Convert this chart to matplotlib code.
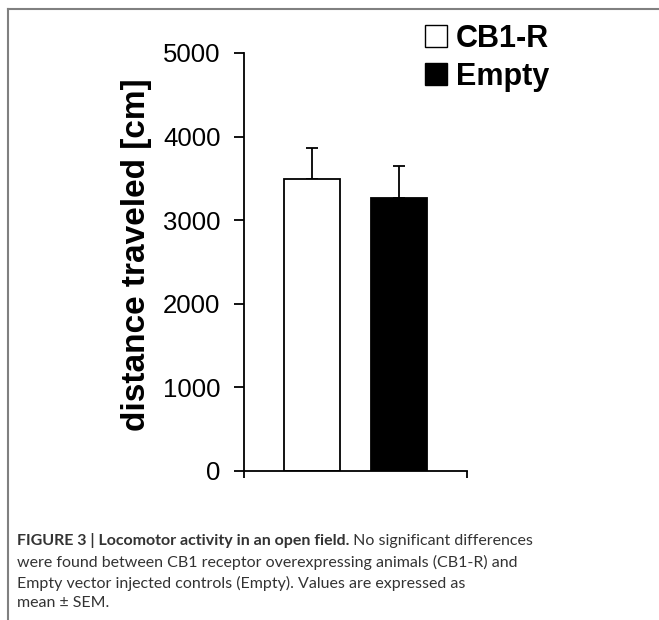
import matplotlib
matplotlib.use("Agg")
import matplotlib.pyplot as plt
from matplotlib.patches import Patch
from matplotlib.lines import Line2D

groups = ["CB1-R", "Empty"]
means = [3490, 3265]
sems = [375, 385]
colors = ["white", "black"]
yticks = [0, 1000, 2000, 3000, 4000, 5000]
ylabel = "distance traveled [cm]"
caption_bold = "FIGURE 3 | Locomotor activity in an open field."
caption_rest = [" No significant differences",
                "were found between CB1 receptor overexpressing animals (CB1-R) and",
                "Empty vector injected controls (Empty). Values are expressed as",
                "mean \u00b1 SEM."]

W, H, DPI = 659, 620, 100
fig = plt.figure(figsize=(W / DPI, H / DPI), dpi=DPI)
plt.rcParams['font.family'] = ['Liberation Sans', 'DejaVu Sans']

ax = fig.add_axes([244 / W, 1 - 471 / H, 223 / W, 418 / H])
xpos = list(range(len(groups)))
ax.bar(xpos, means, width=0.644, color=colors, edgecolor="black", linewidth=1.3, zorder=2)
ax.errorbar(xpos, means, yerr=[[0] * len(sems), sems], fmt="none", ecolor="black",
            elinewidth=1.3, capsize=4.3, capthick=1.3, zorder=1)
ax.set_xlim(-0.782, 1.782)
ax.set_ylim(0, 5000)
ax.set_yticks(yticks)
ax.set_yticklabels([str(v) for v in yticks], fontsize=18.5)
ax.set_xticks([-0.782, 1.782])
ax.set_xticklabels(["", ""])
ax.tick_params(axis="y", direction="out", length=7, width=1.3, pad=10, colors="black")
ax.tick_params(axis="x", direction="out", length=5, width=1.3)
for s in ["top", "right"]:
    ax.spines[s].set_visible(False)
for s in ["left", "bottom"]:
    ax.spines[s].set_linewidth(1.3)
ax.set_ylabel(ylabel, fontsize=24, fontweight="bold")
ax.yaxis.set_label_coords((152 - 244) / 223, (471 - 255) / 418)

handles = [Patch(facecolor=c, edgecolor="black", linewidth=1.0) for c in colors]
leg = fig.legend(handles, groups, loc="upper left", bbox_to_anchor=(425 / W, 1 - 24 / H),
                 frameon=False, borderpad=0, borderaxespad=0, handlelength=0.72,
                 handleheight=0.72, handletextpad=0.28, labelspacing=0.25,
                 prop={"weight": "bold", "size": 22})

# frame lines
fig.add_artist(Line2D([7.5 / W, 1], [1 - 8.5 / H, 1 - 8.5 / H], color="#808080", lw=1.5,
                      transform=fig.transFigure))
fig.add_artist(Line2D([7.5 / W, 7.5 / W], [0, 1 - 8.5 / H], color="#808080", lw=1.5,
                      transform=fig.transFigure))

# caption
cfam = ['Lato', 'DejaVu Sans']
ccol = "#333333"
csize = 11.5
x0 = 17 / W
ys = [541, 562, 583, 603]
t1 = fig.text(x0, 1 - ys[0] / H, caption_bold, fontsize=csize, fontweight="bold",
              family=cfam, color=ccol, va="center", ha="left")
fig.canvas.draw()
bb = t1.get_window_extent(renderer=fig.canvas.get_renderer())
fig.text(bb.x1 / W, 1 - ys[0] / H, caption_rest[0], fontsize=csize, family=cfam,
         color=ccol, va="center", ha="left")
for y, line in zip(ys[1:], caption_rest[1:]):
    fig.text(x0, 1 - y / H, line, fontsize=csize, family=cfam, color=ccol,
             va="center", ha="left")

fig.savefig("out.png", dpi=DPI)
